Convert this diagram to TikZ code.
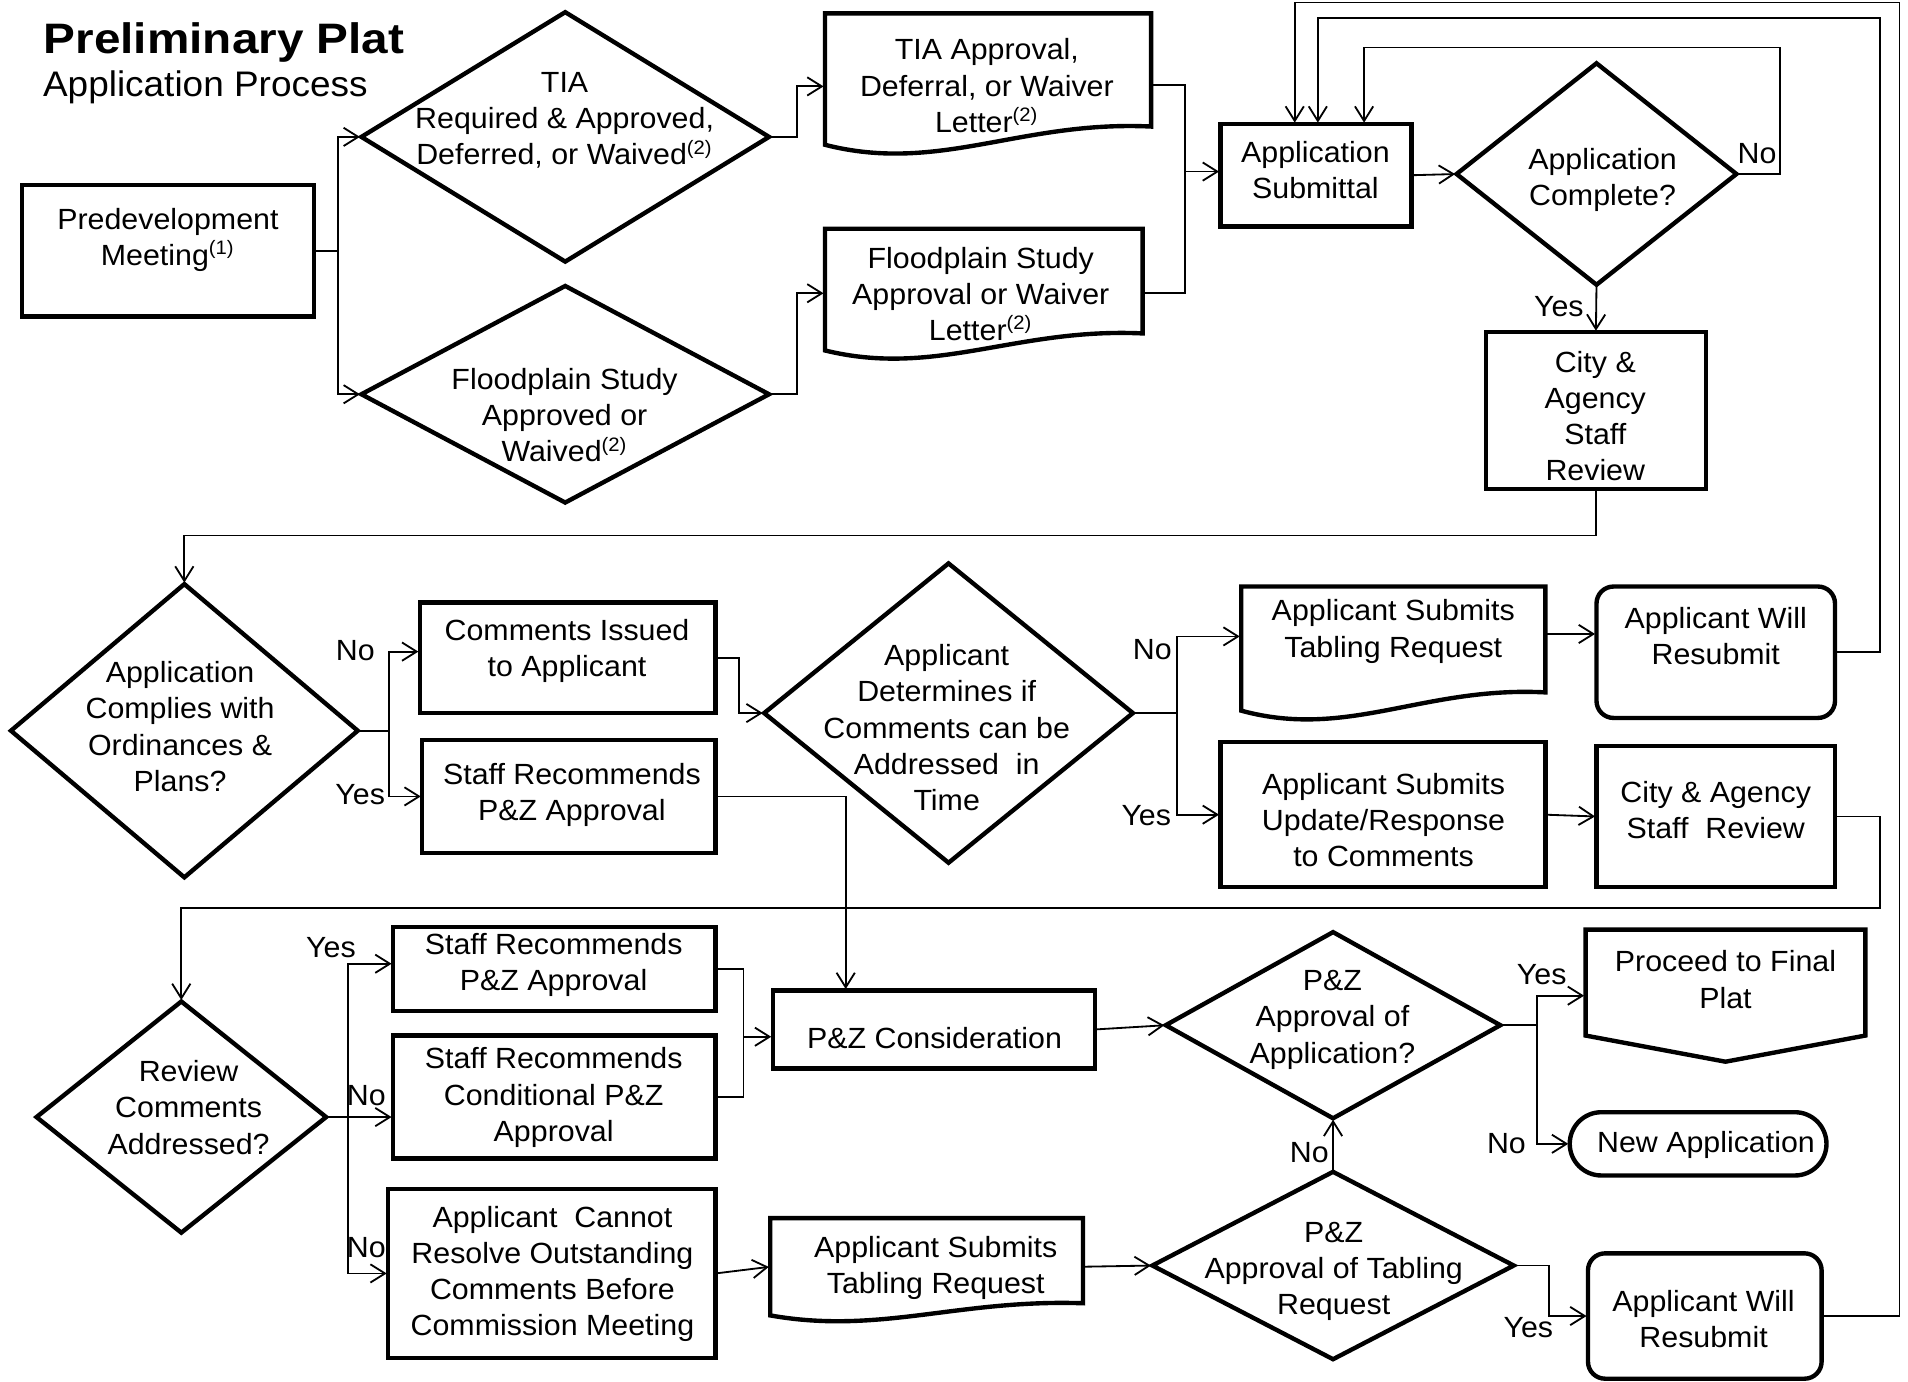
\documentclass[tikz,border=0pt]{standalone}
\usepackage{fontspec}
\newfontfamily\mainf[FakeStretch=1.04]{Liberation Sans}
\newfontfamily\titlef[FakeStretch=1.12]{Liberation Sans}
\usetikzlibrary{shapes.geometric,calc,arrows.meta}
\tikzset{
 shp/.style={draw, line width=1.8pt, inner sep=0pt, outer sep=0pt, line join=miter},
 shpline/.style={draw, line width=1.8pt, line join=miter},
 docframe/.style={inner sep=0pt, outer sep=0pt},
 dia/.style={shp, diamond},
 txt/.style={align=center, inner sep=0pt, font=\mainf\fontsize{12}{14.9}\selectfont},
 lbl/.style={inner sep=0pt, font=\mainf\fontsize{12}{14.9}\selectfont},
 wire/.style={line width=0.75pt},
 arrowwire/.style={line width=0.75pt, -{Straight Barb[length=6pt,width=7.5pt]}, shorten >=0.6pt},
}
\newcommand\docshape[2]{%
 \draw[shpline] (#1.south west) -- (#1.north west) -- (#1.north east) -- ($(#1.south east)+(0,-#2)$)
 .. controls ($(#1.south west)!0.6!(#1.south east)+(0,-1.35*#2)$) and ($(#1.south west)!0.35!(#1.south east)+(0,1.6*#2)$) .. (#1.south west) -- cycle;}
\begin{document}
\begin{tikzpicture}[x=0.5pt,y=-0.5pt]
\useasboundingbox (0,0) rectangle (1568,1135);

% title
\node[anchor=base west, inner sep=0pt, font=\titlef\bfseries\fontsize{17.5}{20}\selectfont] (title) at (35.6,43.8) {Preliminary Plat};
\node[anchor=base west, inner sep=0pt, font=\mainf\fontsize{14.6}{17}\selectfont] (subtitle) at (35,79.5) {Application Process};

% ---------- shapes ----------
\node[shp, minimum width=120pt, minimum height=54pt] (predev) at (138,206) {};
\node[dia, minimum width=167.5pt, minimum height=102.5pt] (tia) at (464.5,112.5) {};
\node[dia, minimum width=167.5pt, minimum height=89pt] (flood) at (464.5,324) {};
\node[docframe, minimum width=134pt, minimum height=54pt] (tiadoc) at (812,65) {};
\docshape{tiadoc}{15}
\node[docframe, minimum width=130.5pt, minimum height=50pt] (flooddoc) at (808.5,238) {};
\docshape{flooddoc}{14}
\node[shp, minimum width=78.5pt, minimum height=42pt] (appsub) at (1081.5,144) {};
\node[dia, minimum width=115pt, minimum height=91pt] (appcomp) at (1312,143) {};
\node[shp, minimum width=90.5pt, minimum height=64.5pt] (cityrev1) at (1311.5,337.5) {};

\node[dia, minimum width=142.5pt, minimum height=120.5pt] (complies) at (151.5,600.5) {};
\node[shp, minimum width=121.5pt, minimum height=45.5pt] (comments) at (466.5,540.5) {};
\node[shp, minimum width=120.5pt, minimum height=46.5pt] (staffrec1) at (467.5,654.5) {};
\node[dia, minimum width=151.5pt, minimum height=123pt] (determ) at (779.5,586) {};
\node[docframe, minimum width=125pt, minimum height=51pt] (tabling1) at (1145,533) {};
\docshape{tabling1}{15}
\node[shp, rounded corners=7pt, minimum width=98pt, minimum height=54pt] (resub1) at (1410,536) {};
\node[shp, minimum width=133.5pt, minimum height=59.5pt] (update) at (1136.5,669.5) {};
\node[shp, minimum width=98pt, minimum height=58pt] (cityrev2) at (1410,671) {};

\node[dia, minimum width=119pt, minimum height=95pt] (review) at (149,918) {};
\node[shp, minimum width=132.5pt, minimum height=34.5pt] (staffrec2) at (455.5,796.5) {};
\node[shp, minimum width=132.5pt, minimum height=50.5pt] (conditional) at (455.5,901.5) {};
\node[shp, minimum width=134.5pt, minimum height=69.5pt] (cannot) at (453.5,1046.5) {};
\node[shp, minimum width=132.5pt, minimum height=32pt] (pzcons) at (767.5,846) {};
\node[dia, minimum width=137.5pt, minimum height=76.5pt] (pzapp) at (1095.5,842.5) {};
\node[docframe, minimum width=115pt, minimum height=54.25pt] (final) at (1418,818.25) {};
\draw[shpline] (final.north west) -- (final.north east) -- ($(final.south east)+(0,-21.5)$) -- (final.south) -- ($(final.south west)+(0,-21.5)$) -- cycle;
\node[shp, rounded corners=13pt, minimum width=105.5pt, minimum height=26pt] (newapp) at (1395.5,940) {};
\node[docframe, minimum width=128.5pt, minimum height=40pt] (tabling2) at (761.5,1041) {};
\docshape{tabling2}{10}
\node[dia, minimum width=148.5pt, minimum height=77pt] (pztab) at (1095.5,1040) {};
\node[shp, rounded corners=7pt, minimum width=96pt, minimum height=51.5pt] (resub2) at (1401,1081.5) {};

% ---------- texts ----------
\node[txt] (predev-t) at (138,197) {Predevelopment\\Meeting\textsuperscript{(1)}};
\node[txt] (tia-t) at (464,99) {TIA\\Required \& Approved,\\Deferred, or Waived\textsuperscript{(2)}};
\node[txt] (flood-t) at (464,341) {Floodplain Study\\Approved or\\Waived\textsuperscript{(2)}};
\node[txt] (tiadoc-t) at (811,70.5) {TIA Approval,\\Deferral, or Waiver\\Letter\textsuperscript{(2)}};
\node[txt] (flooddoc-t) at (806,241.5) {Floodplain Study\\Approval or Waiver\\Letter\textsuperscript{(2)}};
\node[txt] (appsub-t) at (1081,140) {Application\\Submittal};
\node[txt] (appcomp-t) at (1317,148) {Application\\Complete?};
\node[txt] (cityrev1-t) at (1311,342) {City \&\\Agency\\Staff\\Review};
\node[txt] (complies-t) at (148,597) {Application\\Complies with\\Ordinances \&\\Plans?};
\node[txt] (comments-t) at (466,535) {Comments Issued\\to Applicant};
\node[txt] (staffrec1-t) at (470,653) {Staff Recommends\\P\&Z Approval};
\node[txt] (determ-t) at (778,598) {Applicant\\Determines if\\Comments can be\\Addressed\ \ in\\Time};
\node[txt] (tabling1-t) at (1145,519) {Applicant Submits\\Tabling Request};
\node[txt] (resub1-t) at (1410,523) {Applicant Will\\Resubmit};
\node[txt] (update-t) at (1137,674) {Applicant Submits\\Update/Response\\to Comments};
\node[txt] (cityrev2-t) at (1410,666) {City \& Agency\\Staff\ \ Review};
\node[txt] (review-t) at (155,910) {Review\\Comments\\Addressed?};
\node[txt] (staffrec2-t) at (455,793) {Staff Recommends\\P\&Z Approval};
\node[txt] (conditional-t) at (455,902) {Staff Recommends\\Conditional P\&Z\\Approval};
\node[txt] (cannot-t) at (454,1047) {Applicant\ \ Cannot\\Resolve Outstanding\\Comments Before\\Commission Meeting};
\node[txt] (pzcons-t) at (768,853) {P\&Z Consideration};
\node[txt] (pzapp-t) at (1095,838) {P\&Z\\Approval of\\Application?};
\node[txt] (final-t) at (1418,805) {Proceed to Final\\Plat};
\node[txt] (newapp-t) at (1402,941) {New Application};
\node[txt] (tabling2-t) at (769,1042) {Applicant Submits\\Tabling Request};
\node[txt] (pztab-t) at (1096,1045) {P\&Z\\Approval of Tabling\\Request};
\node[txt] (resub2-t) at (1400,1084) {Applicant Will\\Resubmit};

% ---------- port coordinates ----------
\coordinate (asT1) at ($(appsub.north)+(-17.5,0)$);
\coordinate (asT2) at ($(appsub.north)+(1.5,0)$);
\coordinate (asT3) at ($(appsub.north)+(39.5,0)$);
\coordinate (asL) at ($(appsub.west)+(0,-3)$);
\coordinate (tdL) at ($(tiadoc.west)+(0,6)$);
\coordinate (tdR) at ($(tiadoc.east)+(0,5)$);
\coordinate (fdL) at ($(flooddoc.west)+(0,3)$);
\coordinate (fdR) at ($(flooddoc.east)+(0,3)$);
\coordinate (cmL) at ($(comments.west)+(0,-5)$);
\coordinate (t1L) at ($(tabling1.west)+(0,-10)$);
\coordinate (t1R) at ($(tabling1.east)+(0,-12)$);
\coordinate (pzT) at ($(pzcons.north)+(-72.5,0)$);
\coordinate (s2L) at ($(staffrec2.west)+(0,-4.5)$);
\coordinate (pcL) at ($(pzcons.west)+(0,6)$);

% ---------- connectors ----------
\draw[wire] (predev.east) -- ++(20,0) coordinate (j1);
\draw[arrowwire] (j1) |- (tia.west);
\draw[arrowwire] (j1) |- (flood.west);
\draw[arrowwire] (tia.east) -- ++(23,0) |- (tdL);
\draw[arrowwire] (flood.east) -- ++(23,0) |- (fdL);
\draw[wire] (tdR) -- ++(28,0) coordinate (j2) -- (j2 |- fdR) -- (fdR);
\draw[arrowwire] (j2 |- asL) -- (asL);
\draw[arrowwire] (appsub.east) -- (appcomp.west);
\draw[arrowwire] (appcomp.east) -- ++(36,0) -- ++(0,-104) -| (asT3);
\draw[arrowwire] (appcomp.south) -- (cityrev1.north);
\draw[arrowwire] (cityrev1.south) -- ++(0,38) -| (complies.north);

\draw[wire] (complies.east) -- ++(26,0) coordinate (j3);
\draw[arrowwire] (j3) |- (cmL);
\draw[arrowwire] (j3) |- (staffrec1.west);
\draw[arrowwire] (comments.east) -- ++(19,0) |- (determ.west);
\draw[wire] (determ.east) -- ++(36,0) coordinate (j4);
\draw[arrowwire] (j4) |- (t1L);
\draw[arrowwire] (j4) |- (update.west);
\draw[arrowwire] (t1R) -- (t1R -| resub1.west);
\draw[arrowwire] (update.east) -- (cityrev2.west);
\draw[arrowwire] (resub1.east) -- ++(37,0) -- ++(0,-521) -| (asT2);
\draw[arrowwire] (cityrev2.east) -- ++(37,0) -- ++(0,75) -| (review.north);
\draw[arrowwire] (resub2.east) -- ++(64,0) -- ++(0,-1079.5) -| (asT1);
\draw[arrowwire] (staffrec1.east) -| (pzT);

\draw[wire] (review.east) -- ++(18,0) coordinate (j5);
\draw[arrowwire] (j5) |- (s2L);
\draw[arrowwire] (review.east) -- (review.east -| conditional.west);
\draw[arrowwire] (j5) |- (cannot.west);
\draw[wire] (staffrec2.east) -- ++(23,0) coordinate (j7) -- (j7 |- conditional.east) -- (conditional.east);
\draw[arrowwire] (j7 |- pcL) -- (pcL);
\draw[arrowwire] (cannot.east) -- (tabling2.west);
\draw[arrowwire] (tabling2.east) -- (pztab.west);
\draw[arrowwire] (pzcons.east) -- (pzapp.west);
\draw[wire] (pzapp.east) -- ++(30,0) coordinate (j6);
\draw[arrowwire] (j6) |- (final.west);
\draw[arrowwire] (j6) |- (newapp.west);
\draw[arrowwire] (pztab.north) -- (pzapp.south);
\draw[arrowwire] (pztab.east) -- ++(29,0) |- (resub2.west);

% ---------- labels ----------
\node[lbl] (l1) at (1444,126) {No};
\node[lbl] (l2) at (1281,252) {Yes};
\node[lbl] (l3) at (292,535) {No};
\node[lbl] (l4) at (296,653) {Yes};
\node[lbl] (l5) at (947,534) {No};
\node[lbl] (l6) at (942,670) {Yes};
\node[lbl] (l7) at (272,779) {Yes};
\node[lbl] (l8) at (301,900) {No};
\node[lbl] (l9) at (301,1025) {No};
\node[lbl] (l10) at (1267,801) {Yes};
\node[lbl] (l11) at (1238,940) {No};
\node[lbl] (l12) at (1076,947) {No};
\node[lbl] (l13) at (1256,1091) {Yes};
\end{tikzpicture}
\end{document}
